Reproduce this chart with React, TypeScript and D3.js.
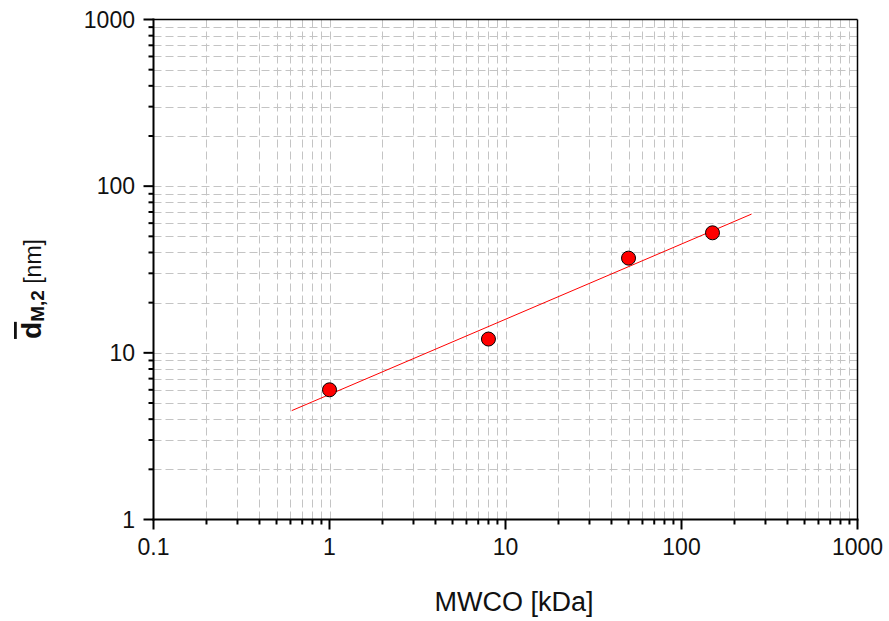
import React from "react";
import * as d3 from "d3";

const mwco = [1, 8, 50, 150];
const dM2 = [6.0, 12.1, 37.0, 52.5];
const fitX = [0.61, 250];
const fitY = [4.5, 68];
const xTickLabels = ["0.1", "1", "10", "100", "1000"];
const yTickLabels = ["1", "10", "100", "1000"];

const W = 889;
const H = 621;
const L = 153.5, R = 857.5, T = 19.5, B = 519.5;

function logMinors(lo: number, hi: number) {
  const out: number[] = [];
  for (let d = lo; d < hi; d *= 10) {
    for (let k = 2; k <= 9; k++) out.push(d * k);
  }
  return out;
}

export default function App() {
  const x = d3.scaleLog().domain([0.1, 1000]).range([L, R]);
  const y = d3.scaleLog().domain([1, 1000]).range([B, T]);
  const xMajor = xTickLabels.map(Number);
  const yMajor = yTickLabels.map(Number);
  const xMinor = logMinors(0.1, 1000);
  const yMinor = logMinors(1, 1000);
  const line = d3
    .line<number>()
    .x((_, i) => x(fitX[i]))
    .y((d) => y(d));
  const gridColor = "#c4c4c4";
  const font = "'Liberation Sans', Arial, sans-serif";
  return (
    <svg
      width={W}
      height={H}
      style={{ position: "absolute", left: 0, top: 0, background: "#fff" }}
      fontFamily={font}
    >
      <rect width={W} height={H} fill="#fff" />
      {/* grid */}
      <g stroke={gridColor} strokeWidth={1} strokeDasharray="8,4">
        {[...xMinor, ...xMajor.slice(1, -1)].map((v, i) => (
          <line key={"gx" + i} x1={Math.round(x(v)) + 0.5} x2={Math.round(x(v)) + 0.5} y1={T} y2={B} />
        ))}
        {[...yMinor, ...yMajor.slice(1, -1)].map((v, i) => (
          <line key={"gy" + i} y1={Math.round(y(v)) + 0.5} y2={Math.round(y(v)) + 0.5} x1={L} x2={R} />
        ))}
      </g>
      {/* frame */}
      <line x1={L} x2={R} y1={T} y2={T} stroke="#000" strokeWidth={1.5} />
      <line x1={R} x2={R} y1={T} y2={B} stroke="#000" strokeWidth={1.5} />
      <line x1={L} x2={L} y1={T - 1} y2={B + 1} stroke="#000" strokeWidth={2} />
      <line x1={L - 1} x2={R + 1} y1={B} y2={B} stroke="#000" strokeWidth={2} />
      {/* ticks */}
      <g stroke="#000" strokeWidth={2}>
        {xMajor.map((v, i) => (
          <line key={"xt" + i} x1={x(v)} x2={x(v)} y1={B} y2={B + 10} />
        ))}
        {xMinor.map((v, i) => (
          <line key={"xm" + i} x1={x(v)} x2={x(v)} y1={B} y2={B + 5} />
        ))}
        {yMajor.map((v, i) => (
          <line key={"yt" + i} x1={L - 10} x2={L} y1={y(v)} y2={y(v)} />
        ))}
        {yMinor.map((v, i) => (
          <line key={"ym" + i} x1={L - 5} x2={L} y1={y(v)} y2={y(v)} />
        ))}
      </g>
      {/* tick labels */}
      <g fontSize={23} fill="#111">
        {xMajor.map((v, i) => (
          <text key={"xl" + i} x={x(v)} y={555} textAnchor="middle">
            {xTickLabels[i]}
          </text>
        ))}
        {yMajor.map((v, i) => (
          <text key={"yl" + i} x={135} y={y(v) + 8} textAnchor="end">
            {yTickLabels[i]}
          </text>
        ))}
      </g>
      {/* fit line */}
      <path d={line(fitY) || ""} fill="none" stroke="#ff0000" strokeWidth={1} />
      {/* points */}
      {mwco.map((v, i) => (
        <circle key={"p" + i} cx={x(v)} cy={y(dM2[i])} r={7} fill="#ff0000" stroke="#000" strokeWidth={1} />
      ))}
      {/* axis titles */}
      <text x={514} y={611} textAnchor="middle" fontSize={27} fill="#111">
        MWCO [kDa]
      </text>
      <text transform="translate(41,289) rotate(-90)" textAnchor="middle" fill="#111">
        <tspan fontWeight="bold" fontSize={28} textDecoration="overline">d</tspan>
        <tspan fontWeight="bold" fontSize={19} dy={3}>M,2</tspan>
        <tspan fontSize={23} dy={-3}> [nm]</tspan>
      </text>
    </svg>
  );
}
